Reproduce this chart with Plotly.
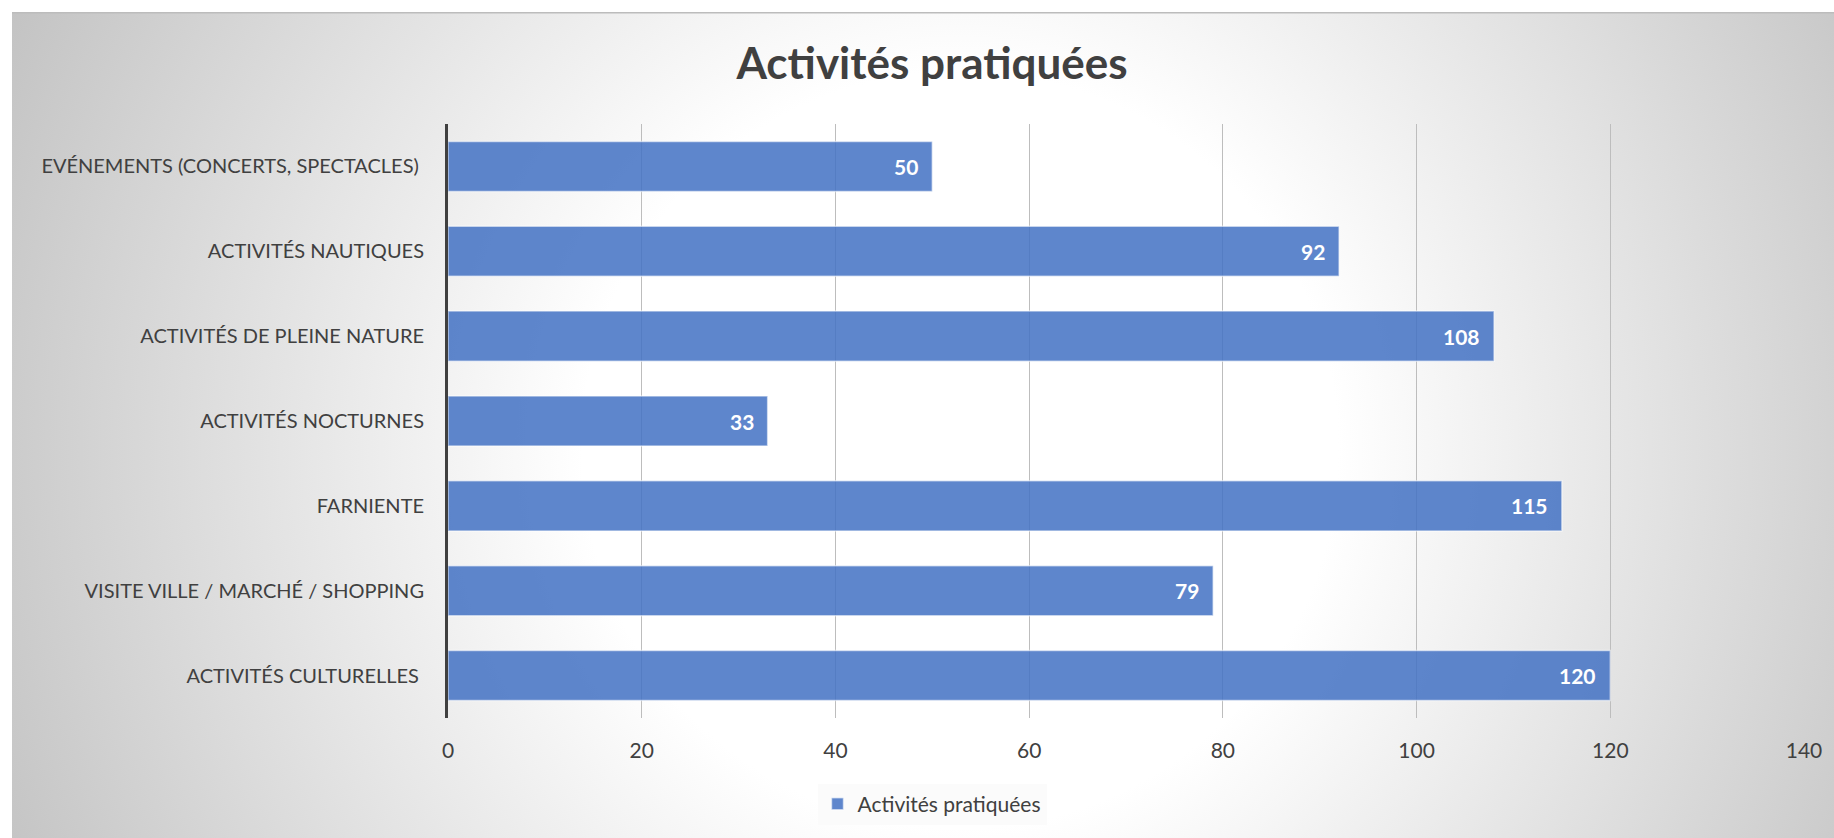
import base64
import plotly.graph_objects as go

# ---- data ----
categories = [
    "EVÉNEMENTS (CONCERTS, SPECTACLES)\u00a0",
    "ACTIVITÉS NAUTIQUES",
    "ACTIVITÉS DE PLEINE NATURE",
    "ACTIVITÉS NOCTURNES",
    "FARNIENTE",
    "VISITE VILLE / MARCHÉ / SHOPPING",
    "ACTIVITÉS CULTURELLES\u00a0",
]
values = [50, 92, 108, 33, 115, 79, 120]
series_name = "Activités pratiquées"
title_text = "Activités pratiquées"
x_ticks = [0, 20, 40, 60, 80, 100, 120, 140]

# ---- layout geometry ----
W, H = 1834, 838
ML, MR, MT, MB = 448, 30, 124, 120
PW, PH = W - ML - MR, H - MT - MB
FONT = "Lato"
TXT = "#404040"

# radial gradient background (chart area)
BX, BY = 12, 12
BW, BH = W - BX, H - BY
svg = (
    f'<svg xmlns="http://www.w3.org/2000/svg" width="{BW}" height="{BH}" viewBox="0 0 {BW} {BH}">'
    f'<defs><radialGradient id="g" gradientUnits="userSpaceOnUse" cx="{960-BX}" cy="{450-BY}" r="1080">'
    '<stop offset="0" stop-color="#ffffff"/><stop offset="0.35" stop-color="#ffffff"/>'
    '<stop offset="1" stop-color="#c0c0c0"/></radialGradient></defs>'
    f'<rect width="{BW}" height="{BH}" fill="url(#g)"/>'
    f'<line x1="0" y1="0.75" x2="{BW}" y2="0.75" stroke="#bcbcbc" stroke-width="1.5"/>'
    '</svg>'
)
src = "data:image/svg+xml;base64," + base64.b64encode(svg.encode()).decode()

fig = go.Figure()
fig.add_trace(go.Bar(
    x=values, y=categories, orientation="h", name=series_name,
    marker=dict(color="rgba(68,114,196,0.86)", line=dict(color="rgba(255,255,255,0.55)", width=1.5)),
    showlegend=True, hoverinfo="x+y",
))

for v, c in zip(values, categories):
    fig.add_annotation(x=v, y=c, xref="x", yref="y", text=str(v), showarrow=False,
                       xanchor="right", xshift=-12,
                       font=dict(family=FONT, size=21, color="white", weight="bold"))

fig.update_layout(
    width=W, height=H,
    margin=dict(l=ML, r=MR, t=MT, b=MB, pad=0),
    paper_bgcolor="white", plot_bgcolor="rgba(0,0,0,0)",
    bargap=0.41,
    title=dict(text=title_text, x=(932 - ML) / PW, xref="paper", xanchor="center",
               y=1 - 64 / H, yref="container", yanchor="middle",
               font=dict(family=FONT, size=44, color=TXT, weight="bold")),
    legend=dict(orientation="h", x=(932 - ML) / PW, xanchor="center",
                y=(718 - 804) / PH, yanchor="middle",
                bgcolor="rgba(250,250,250,0.8)", font=dict(family=FONT, size=21, color=TXT),
                itemwidth=30),
    images=[dict(source=src, xref="paper", yref="paper",
                 x=(BX - ML) / PW, y=(H - MB - BY) / PH,
                 sizex=BW / PW, sizey=BH / PH, xanchor="left", yanchor="top",
                 sizing="stretch", layer="below")],
    font=dict(family=FONT, color=TXT),
)
fig.update_xaxes(range=[0, 140], tickvals=x_ticks, showgrid=True, gridcolor="#bdbdbd", gridwidth=1,
                 zeroline=False, showline=False, ticks="outside", ticklen=14, tickcolor="rgba(0,0,0,0)",
                 tickfont=dict(family=FONT, size=21, color=TXT), fixedrange=True)
fig.update_yaxes(autorange="reversed", showline=True, linecolor="#404040", linewidth=3,
                 showgrid=False, ticks="outside", ticklen=17, tickcolor="rgba(0,0,0,0)",
                 tickfont=dict(family=FONT, size=20, color=TXT), fixedrange=True)

fig.write_html("out.html", config={"displayModeBar": False},
               post_script="document.body.style.margin='0px';document.body.style.overflow='hidden';")
